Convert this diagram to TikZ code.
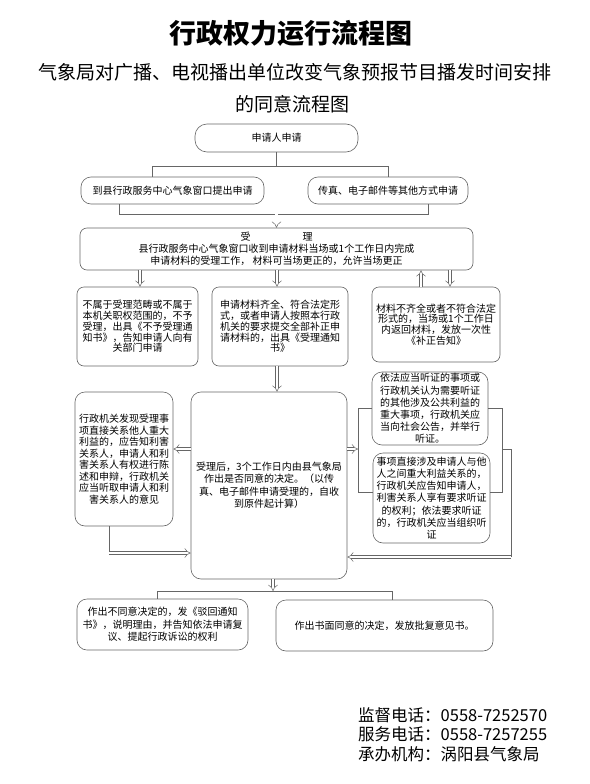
\documentclass[tikz,border=0pt]{standalone}
\usepackage{fontspec}
\setmainfont{Noto Sans CJK SC}
\usetikzlibrary{arrows.meta}
\begin{document}
\begin{tikzpicture}[x=1pt,y=-1pt,
  box/.style={draw=black!60, line width=0.6pt, rounded corners=7pt, align=center, inner sep=1pt, font=\fontsize{10}{11.5}\selectfont},
  conn/.style={draw=black!60, line width=0.6pt},
  hol/.style={draw=black!60, line width=0.5pt, double=white, double distance=2.8pt, -{Implies}},
  foot/.style={anchor=west, inner sep=0pt, font=\fontsize{16.5}{18}\selectfont},
]
\useasboundingbox[fill=white] (0,0) rectangle (589,784);

% titles
\node[font=\fontsize{27}{30}\selectfont\bfseries] (title) at (291,33) {行政权力运行流程图};
\node[font=\fontsize{19}{21}\selectfont] (sub1) at (294.5,72) {气象局对广播、电视播出单位改变气象预报节目播发时间安排};
\node[font=\fontsize{19}{21}\selectfont] (sub2) at (292,104) {的同意流程图};

% boxes
\node[box, rounded corners=12pt, minimum width=163pt, minimum height=28pt] (apply) at (276.5,138) {申请人申请};
\node[box, rounded corners=10pt, minimum width=183pt, minimum height=27pt] (left1) at (172.5,190.5) {到县行政服务中心气象窗口提出申请};
\node[box, rounded corners=10pt, minimum width=160pt, minimum height=27pt] (right1) at (388,190.5) {传真、电子邮件等其他方式申请};
\node[box, minimum width=393pt, minimum height=42pt, font=\fontsize{10}{12}\selectfont] (accept) at (276.5,249) {受\hspace{52pt}理\\县行政服务中心气象窗口收到申请材料当场或1个工作日内完成\\申请材料的受理工作，\ 材料可当场更正的，允许当场更正};
\node[box, minimum width=121pt, minimum height=79pt, font=\fontsize{10}{10.8}\selectfont] (no) at (137.5,326.5) {不属于受理范畴或不属于\\本机关职权范围的，不予\\受理，出具《不予受理通\\知书》，告知申请人向有\\关部门申请};
\node[box, minimum width=136pt, minimum height=79pt, font=\fontsize{10}{10.8}\selectfont] (ok) at (280,326.5) {申请材料齐全、符合法定形\\式，或者申请人按照本行政\\机关的要求提交全部补正申\\请材料的，出具《受理通知\\书》};
\node[box, minimum width=128pt, minimum height=75pt, font=\fontsize{10}{10.8}\selectfont] (fix) at (436,324.5) {材料不齐全或者不符合法定\\形式的，当场或1个工作日\\内返回材料，发放一次性\\《补正告知》};
\node[box, rounded corners=10pt, minimum width=156pt, minimum height=187pt, font=\fontsize{10}{12.5}\selectfont] (decide) at (269,485.5) {受理后，3个工作日内由县气象局\\作出是否同意的决定。（以传\\真、电子邮件申请受理的，自收\\到原件起计算）};
\node[box, rounded corners=10pt, minimum width=98pt, minimum height=134pt, font=\fontsize{10}{11.5}\selectfont] (inform) at (124,459) {行政机关发现受理事\\项直接关系他人重大\\利益的，应告知利害\\关系人，申请人和利\\害关系人有权进行陈\\述和申辩，行政机关\\应当听取申请人和利\\害关系人的意见};
\node[box, rounded corners=10pt, minimum width=116pt, minimum height=73pt, font=\fontsize{10}{12.2}\selectfont] (hear1) at (430,408.5) {依法应当听证的事项或\\行政机关认为需要听证\\的其他涉及公共利益的\\重大事项，行政机关应\\当向社会公告，并举行\\听证。};
\node[box, rounded corners=10pt, minimum width=117pt, minimum height=90pt, font=\fontsize{10}{12.2}\selectfont] (hear2) at (431.5,498) {事项直接涉及申请人与他\\人之间重大利益关系的，\\行政机关应告知申请人，\\利害关系人享有要求听证\\的权利；依法要求听证\\的，行政机关应当组织听\\证};
\node[box, rounded corners=10pt, minimum width=171pt, minimum height=51pt, font=\fontsize{10}{12.5}\selectfont] (reject) at (162.5,624.5) {作出不同意决定的，发《驳回通知\\书》，说明理由，并告知依法申请复\\议、提起行政诉讼的权利};
\node[box, rounded corners=10pt, minimum width=217pt, minimum height=51pt] (approve) at (384.5,625.5) {作出书面同意的决定，发放批复意见书。};

% footer
\node[foot] (f1) at (358,715) {监督电话：0558-7252570};
\node[foot] (f2) at (358,734) {服务电话：0558-7257255};
\node[foot] (f3) at (358,754) {承办机构：涡阳县气象局};

% helper coordinates
\coordinate (t1) at (152,166);
\coordinate (t2) at (388,166);
\coordinate (b1) at (119,214);
\coordinate (b2) at (428,214);
\coordinate (bm) at (276.5,214);
\coordinate (xa) at (140,0);
\coordinate (xb) at (277,0);
\coordinate (xc) at (421,0);
\coordinate (xd) at (450,0);
\coordinate (ya) at (0,449);
\coordinate (yb) at (0,553);
\coordinate (yc) at (0,557);
\coordinate (lc) at (109,553);
\coordinate (lbx) at (358,0);
\coordinate (rbx) at (502,0);
\coordinate (rox) at (511,0);
\coordinate (d1) at (157,591);
\coordinate (d2) at (392,591);
\coordinate (dm) at (273,591);

% top tree
\draw[conn] (apply.south) -- (apply.south |- t1);
\draw[conn] (t1 |- left1.north) -- (t1) -- (t2) -- (t2 |- right1.north);
\draw[conn] (b1 |- left1.south) -- (b1) -- (b2) -- (b2 |- right1.south);
\draw[hol] (bm) -- (accept.north);

% accept to row 3
\draw[hol] (xa |- accept.south) -- (xa |- no.north);
\draw[hol] (xb |- accept.south) -- (xb |- ok.north);
\draw[hol] (xc |- fix.north) -- (xc |- accept.south);
\draw[hol] (xd |- accept.south) -- (xd |- fix.north);
\draw[hol] (xb |- ok.south) -- (xb |- decide.north);

% left branch
\draw[hol] (decide.west |- ya) -- (inform.east |- ya);
\draw[conn] (lc |- inform.south) -- (lc);
\draw[hol] (lc) -- (decide.west |- yb);

% right branch
\draw[hol] (decide.east |- ya) -- (lbx |- ya);
\draw[conn] (hear1.west |- 0,408) -- (lbx |- 0,408) -- (lbx |- 0,492) -- (hear2.west |- 0,492);
\draw[conn] (hear1.east |- 0,408) -- (rbx |- 0,408) -- (rbx |- 0,492) -- (hear2.east |- 0,492);
\draw[conn] (rbx |- ya) -- (rox |- ya) -- (rox |- yc);
\draw[hol] (rox |- yc) -- (decide.east |- yc);

% bottom
\draw[hol] (dm |- decide.south) -- (dm);
\draw[conn] (d1 |- reject.north) -- (d1) -- (d2) -- (d2 |- approve.north);
\end{tikzpicture}
\end{document}
